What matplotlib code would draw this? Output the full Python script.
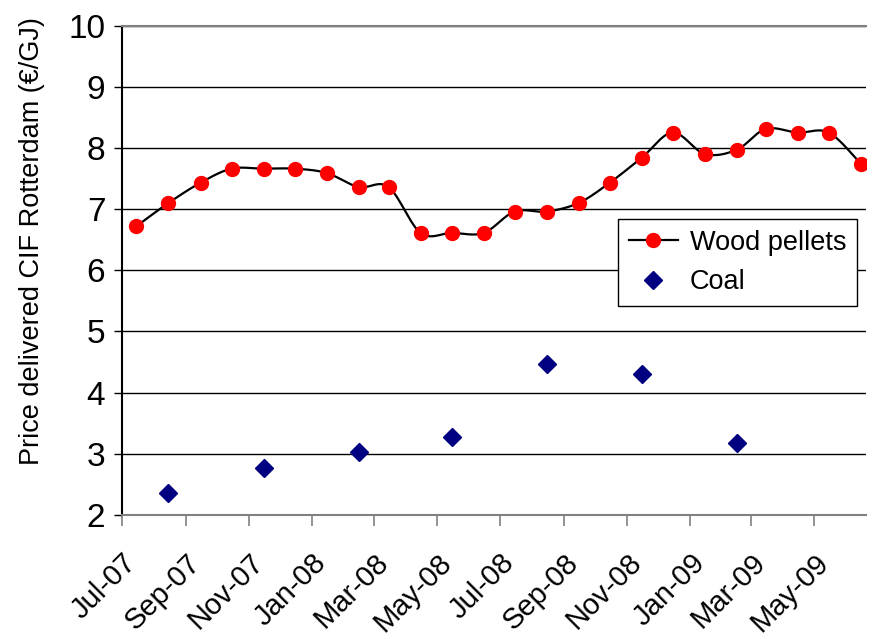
import numpy as np
import matplotlib
matplotlib.use("Agg")
import matplotlib.pyplot as plt
import matplotlib.dates as mdates
from datetime import date

plt.rcParams['font.family'] = ['Liberation Sans', 'DejaVu Sans']

# ---- data ----
wood_months = ["2007-07", "2007-08", "2007-09", "2007-10", "2007-11", "2007-12",
               "2008-01", "2008-02", "2008-03", "2008-04", "2008-05", "2008-06",
               "2008-07", "2008-08", "2008-09", "2008-10", "2008-11", "2008-12",
               "2009-01", "2009-02", "2009-03", "2009-04", "2009-05", "2009-06"]
wood_values = [6.72, 7.10, 7.43, 7.66, 7.66, 7.66, 7.59, 7.36, 7.36, 6.61, 6.61, 6.61,
               6.96, 6.96, 7.10, 7.43, 7.84, 8.25, 7.90, 7.97, 8.31, 8.25, 8.25, 7.74]
coal_months = ["2007-08", "2007-11", "2008-02", "2008-05", "2008-08", "2008-11", "2009-02"]
coal_values = [2.36, 2.77, 3.03, 3.27, 4.47, 4.30, 3.17]
tick_labels = ["Jul-07", "Sep-07", "Nov-07", "Jan-08", "Mar-08", "May-08", "Jul-08",
               "Sep-08", "Nov-08", "Jan-09", "Mar-09", "May-09"]


def mid_month(s):
    y, m = s.split("-")
    return mdates.date2num(date(int(y), int(m), 15))


wx = np.array([mid_month(s) for s in wood_months])
wy = np.array(wood_values)
cx = np.array([mid_month(s) for s in coal_months])
cy = np.array(coal_values)


def smooth(x, y, n=20):
    # Bezier smoothing like spreadsheet "smoothed line"
    P = np.column_stack([x, y])
    out = [P[0]]
    N = len(P)
    for i in range(N - 1):
        p0 = P[i - 1] if i > 0 else P[i]
        p1 = P[i]
        p2 = P[i + 1]
        p3 = P[i + 2] if i + 2 < N else P[i + 1]
        c1 = p1 + (p2 - p0) / 6.0
        c2 = p2 - (p3 - p1) / 6.0
        t = np.linspace(0, 1, n + 1)[1:][:, None]
        seg = ((1 - t) ** 3) * p1 + 3 * ((1 - t) ** 2) * t * c1 + 3 * (1 - t) * t ** 2 * c2 + t ** 3 * p2
        out.extend(seg)
    out = np.array(out)
    return out[:, 0], out[:, 1]


fig = plt.figure(figsize=(8.72, 6.39), dpi=100)
ax = fig.add_axes([122 / 872, 1 - 515 / 639, (866 - 122) / 872, (515 - 25.5) / 639])

ax.set_ylim(2, 10)
ax.set_yticks(range(2, 11))
ax.yaxis.grid(True, color='black', linewidth=1.0)
ax.set_axisbelow(True)

sx, sy = smooth(wx, wy)
ax.plot(sx, sy, color='black', linewidth=1.6, zorder=3)
ax.plot(wx, wy, linestyle='none', marker='o', markersize=10, color='#ff0000',
        markeredgecolor='#ff0000', zorder=4)
ax.plot([], [], color='black', linewidth=1.6, marker='o', markersize=10,
        markerfacecolor='#ff0000', markeredgecolor='#ff0000', label='Wood pellets')
ax.plot(cx, cy, linestyle='none', marker='D', markersize=9.5, color='#000080',
        zorder=4, label='Coal')

start = mdates.date2num(date(2007, 7, 1))
ax.set_xlim(start, mdates.date2num(date(2009, 6, 20)))
months = ["Jan", "Feb", "Mar", "Apr", "May", "Jun", "Jul", "Aug", "Sep", "Oct", "Nov", "Dec"]
tick_pos = []
for lbl in tick_labels:
    mon, yy = lbl.split("-")
    tick_pos.append(mdates.date2num(date(2000 + int(yy), months.index(mon) + 1, 1)))
ax.set_xticks(tick_pos)
ax.set_xticklabels(tick_labels, rotation=45, ha='right', rotation_mode='anchor', fontsize=21)
ax.tick_params(axis='x', length=8, width=1.2, color='#808080', pad=16)
ax.tick_params(axis='y', length=6, width=1.0, color='black', labelsize=24, pad=6)

ax.spines['right'].set_visible(False)
ax.spines['top'].set_color('#808080')
ax.spines['top'].set_linewidth(1.5)
ax.spines['bottom'].set_color('#808080')
ax.spines['bottom'].set_linewidth(1.5)
ax.spines['left'].set_color('black')
ax.spines['left'].set_linewidth(1.5)

ax.set_ylabel("Price delivered CIF Rotterdam (€/GJ)", fontsize=19.5)
ax.yaxis.set_label_coords(-0.1035, 0.559)

leg = ax.legend(loc='upper left', bbox_to_anchor=((618 - 122) / 744, 1 - (219 - 25.5) / 489.5),
                fontsize=19.5, frameon=True, fancybox=False, edgecolor='black',
                framealpha=1, borderpad=0.4, handlelength=1.8, labelspacing=0.5,
                handletextpad=0.45, borderaxespad=0)
leg.get_frame().set_linewidth(1.0)

fig.savefig("out.png", dpi=100, facecolor='white')
